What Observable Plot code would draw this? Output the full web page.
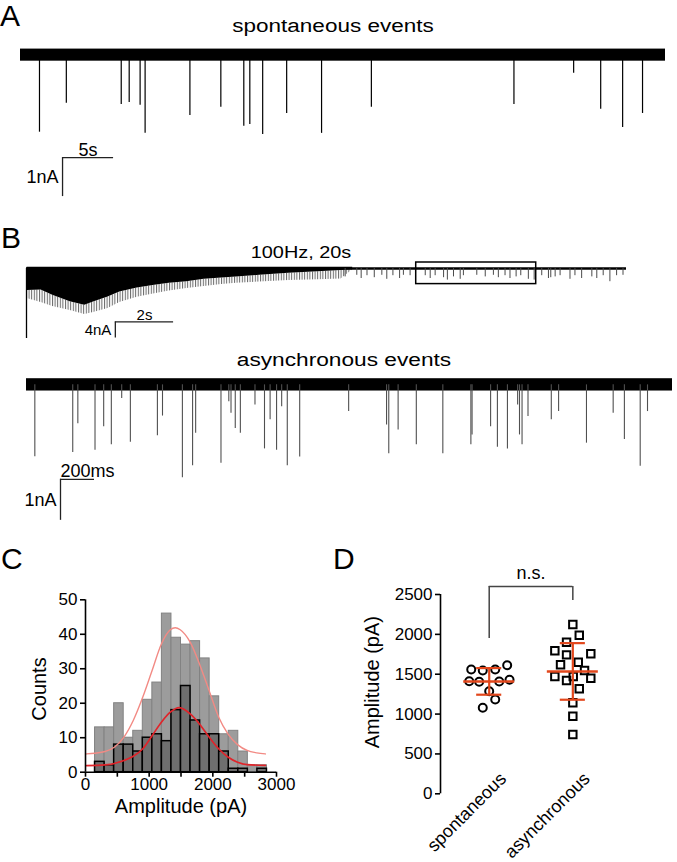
<!DOCTYPE html>
<html><head><meta charset="utf-8">
<script src="https://cdn.jsdelivr.net/npm/d3@7"></script>
<script src="https://cdn.jsdelivr.net/npm/@observablehq/plot@0.6"></script>
<style>
body{margin:0;background:#fff;}
#fig{position:relative;width:677px;height:862px;font-family:"Liberation Sans",Arial,sans-serif;color:#000;overflow:hidden;background:#fff}
.p{position:absolute}
.lbl{position:absolute;font-size:30px;line-height:1;white-space:nowrap}
.ttl{position:absolute;line-height:1;white-space:nowrap}
</style></head><body>
<svg width="0" height="0" style="position:absolute"><defs>
<pattern id="comb" width="2.6" height="6" patternUnits="userSpaceOnUse"><rect width="1" height="6" fill="#666"/></pattern>
</defs></svg>
<div id="fig"></div>
<script>
// ---------- Panel A : spontaneous events ----------
const durA = 63.2;                       // s
const noiseA = [-0.15, 0.16];            // nA
const spontTimes = [1.86,4.49,9.87,10.65,11.72,12.21,16.6,19.63,21.88,22.47,23.73,26.08,29.5,34.38,48.35,54.2,56.85,59.0,60.95];
const spontAmps  = [1.97,1.23,1.26,1.21,1.28,2.0,1.54,1.33,1.82,1.77,2.03,1.49,2.0,1.33,1.26,0.46,1.38,1.85,1.49];
const scaleBarA = {t0: 4.12, dt: 5, y0: -2.62, dy: 1, tLabel: "5s", yLabel: "1nA"};

// ---------- Panel B : 100 Hz train ----------
const durB = 20.6;
const trainOnsetAmp = 17.5;
const trainT      = [0.02,0.5,0.9,1.5,2.0,2.3,2.8,3.2,3.8,4.4,4.9,5.5,6.1,6.7,7.2,8.0,9.0,10.0,10.8,11.2];
const trainCore   = [5.5,5.4,6.7,8.3,9.2,8.4,7.1,5.9,4.9,4.2,3.7,3.3,2.7,2.35,2.1,1.7,1.2,0.8,0.5,0.3];
const trainFringe = [7.5,8.5,9.5,10.5,11.5,11,10,8.5,7.2,6.3,5.6,5.0,4.5,4.0,3.7,3.4,3.0,2.8,2.6,0.3];
const tailTimes = [10.94,11.34,11.49,11.69,11.94,12.2,12.37,12.58,12.81,12.94,13.17,13.69,13.86,14.03,14.32,14.45,14.66,14.89,15.0,15.46,15.75,16.03,16.2,16.43,16.6,16.81,16.97,17.23,17.43,17.69,17.92,18.0,18.15,18.32,18.66,18.83,19.06,19.41,19.58,19.8,20.03,20.26,20.48];
const tailAmps  = [2.1,1.7,2.5,1.8,2.3,1.7,2.7,1.8,2.5,1.7,1.8,1.8,2.5,1.8,2.3,2.9,2.1,2.7,1.8,1.7,2.1,1.7,2.3,1.8,2.5,2.1,1.8,2.7,2.9,1.8,2.5,2.3,2.1,1.8,2.7,1.8,2.5,2.1,2.5,1.8,3.3,1.8,1.7];
const zoomBox = {t1: 13.38, t2: 17.5, y1: -3.9, y2: 1.5};
const scaleBarB = {t0: 3.05, dt: 2, y0: -13.35, dy: 4, tLabel: "2s", yLabel: "4nA"};

// ---------- Panel B : asynchronous events ----------
const durC = 3.8;
const noiseAsync = [-0.15, 0.15];
const asyncTimes = [0.049,0.272,0.302,0.403,0.454,0.499,0.560,0.611,0.770,0.800,0.917,0.977,0.995,1.144,1.190,1.203,1.228,1.258,1.344,1.400,1.433,1.471,1.501,1.534,1.607,1.895,2.118,2.131,2.186,2.293,2.449,2.614,2.621,2.730,2.770,2.829,2.889,2.900,2.915,2.950,3.087,3.130,3.294,3.451,3.517,3.610,3.653];
const asyncAmps  = [1.75,1.65,0.95,1.59,1.02,1.46,0.33,1.40,1.24,0.76,2.26,1.97,1.18,1.91,0.41,0.69,1.06,1.18,0.49,1.56,0.85,1.59,0.53,1.97,1.76,0.65,0.98,1.68,1.10,1.46,1.68,1.46,1.22,1.02,1.52,1.56,0.49,1.22,1.46,0.77,0.85,0.65,1.42,0.69,1.33,1.98,0.65];
const scaleBarAsync = {t0: 0.2, dt: 0.2, y0: -2.3, dy: 1, tLabel: "200ms", yLabel: "1nA"};

// ---------- Panel C : histogram ----------
const binLo = [150,300,450,600,750,900,1050,1200,1350,1500,1650,1800,1950,2100,2250,2400,2550,2700];
const binWidth = 150;
const countsLight = [13,13,20,10,12,21,26,46,39,37,38,33,22,11,12,6,2,2];
const countsDark  = [3,2,8,8,6,10,11,9,18,25,15,11,11,6,1,1,0,1];
const fitLightX = [15,146,307,458,604,750,900,1046,1192,1332,1410,1488,1644,1790,1941,2091,2237,2388,2539,2690,2825];
const fitLightY = [5.3,5.5,6.0,7.3,10.2,15,21.8,29.5,37.2,41.3,41.9,41.3,37.7,31.4,23.7,16,11.1,8.0,6.3,5.6,5.3];
const fitRedX = [15,307,604,750,900,1046,1192,1332,1472,1644,1790,1941,2091,2237,2388,2539,2825];
const fitRedY = [1.9,2.1,3.4,4.6,6.8,10.6,14.5,17.4,18.7,16.9,14.0,10.2,6.8,4.4,2.9,2.2,2.0];
const cTicksX = [0,500,1000,1500,2000,2500,3000];
const cTicksY = [0,10,20,30,40,50];

// ---------- Panel D : amplitude scatter ----------
const groupNames = ["spontaneous","asynchronous"];
const groupPos = [1, 2];
const spontValues = [1559,1547,1559,1613,1412,1405,1409,1430,1287,1183,1079];
const spontJitter = [-0.215,-0.077,0.072,0.215,-0.239,-0.12,0.12,0.243,0,0.072,-0.077];
const asyncValues = [2124,1990,1902,1794,1756,1743,1651,1618,1547,1471,1471,1450,1421,1317,1141,973,744];
const asyncJitter = [0,0.077,-0.075,-0.215,0.215,-0.075,0.065,-0.147,0.14,-0.215,0.005,0.215,-0.075,0.077,0,0,0];
const groupMean = [1410, 1535];
const groupSD   = [167, 355];
const dTicksY = [0,500,1000,1500,2000,2500];
const sigLabel = "n.s.";
const sigBracket = {top: 2600, leftEnd: 1948, rightEnd: 2425};

// ================= drawing =================
const fig = document.getElementById("fig");
const FONT = '"Liberation Sans", Arial, sans-serif';
function place(node, left, top){ const w=document.createElement("div"); w.className="p"; w.style.left=left+"px"; w.style.top=top+"px"; w.appendChild(node); fig.appendChild(w); }
function panelLabel(t, left, top){ const d=document.createElement("div"); d.className="lbl"; d.style.left=left+"px"; d.style.top=top+"px"; d.textContent=t; fig.appendChild(d); }
function title(t, cx, cy, size, sx){ const d=document.createElement("div"); d.className="ttl"; d.style.left=cx+"px"; d.style.top=cy+"px"; d.style.fontSize=size+"px"; d.style.transform=`translate(-50%,-50%) scaleX(${sx})`; d.textContent=t; fig.appendChild(d); }
const baseStyle = {background:"transparent", overflow:"visible", fontFamily:FONT, color:"black"};

function scaleBarMarks(sb, fs, tAnchor){
  return [
    Plot.ruleY([sb], {x1: d=>d.t0, x2: d=>d.t0+d.dt, y: d=>d.y0, stroke:"#222", strokeWidth:1.3}),
    Plot.ruleX([sb], {x: d=>d.t0, y1: d=>d.y0, y2: d=>d.y0-d.dy, stroke:"#222", strokeWidth:1.3}),
    Plot.text([sb], {x: d=> tAnchor==="start" ? d.t0 : d.t0+d.dt/2, y: d=>d.y0, text: d=>d.tLabel, textAnchor: tAnchor, lineAnchor:"bottom", dy:-2, fontSize:fs}),
    Plot.text([sb], {x: d=>d.t0, y: d=>d.y0-d.dy/2, text: d=>d.yLabel, textAnchor:"end", dx:-4, fontSize:fs})
  ];
}

// Panel A
panelLabel("A", 0, 1);
title("spontaneous events", 333, 26, 18, 1.25);
place(Plot.plot({
  width:677, height:167, marginLeft:20, marginRight:12, marginTop:0, marginBottom:0,
  x:{domain:[0,durA], axis:null}, y:{domain:[-3.9,0.38], axis:null}, style:baseStyle,
  marks:[
    Plot.rect([noiseA], {x1:0, x2:durA, y1:d=>d[0], y2:d=>d[1], fill:"black"}),
    Plot.ruleX(spontTimes, {x:d=>d, y1:0, y2:(d,i)=>-spontAmps[i], stroke:"black", strokeWidth:1.2}),
    ...scaleBarMarks(scaleBarA, 18, "middle")
  ]
}), 0, 40);

// Panel B train
panelLabel("B", 1, 223);
title("100Hz, 20s", 301, 252, 17, 1.17);
const train = trainT.map((t,i)=>({t, core:trainCore[i], fringe:trainFringe[i]}));
place(Plot.plot({
  width:677, height:88, marginLeft:26, marginRight:51, marginTop:0, marginBottom:0,
  x:{domain:[0,durB], axis:null}, y:{domain:[-19.5,2.5], axis:null}, style:baseStyle,
  marks:[
    Plot.areaY(train, {x:"t", y1:d=>-d.core, y2:d=>-d.fringe, fill:"url(#comb)", curve:"linear"}),
    Plot.areaY(train, {x:"t", y1:0.3, y2:d=>-d.core, fill:"black", curve:"linear"}),
    Plot.ruleY([0], {x1:0, x2:durB, stroke:"black", strokeWidth:2.5}),
    Plot.ruleX([trainOnsetAmp], {x:0, y1:0, y2:d=>-d, stroke:"black", strokeWidth:1.3}),
    Plot.ruleX(tailTimes, {x:d=>d, y1:0, y2:(d,i)=>-tailAmps[i], stroke:"#4a4a4a", strokeWidth:1}),
    Plot.rect([zoomBox], {x1:"t1", x2:"t2", y1:"y1", y2:"y2", fill:"none", stroke:"black", strokeWidth:1.5}),
    ...scaleBarMarks(scaleBarB, 15, "middle")
  ]
}), 0, 258);

// Panel B async
title("asynchronous events", 344, 360, 18, 1.26);
place(Plot.plot({
  width:677, height:156, marginLeft:26, marginRight:5, marginTop:0, marginBottom:0,
  x:{domain:[0,durC], axis:null}, y:{domain:[-3.45,0.35], axis:null}, style:baseStyle,
  marks:[
    Plot.rect([noiseAsync], {x1:0, x2:durC, y1:d=>d[0], y2:d=>d[1], fill:"black"}),
    Plot.ruleX(asyncTimes, {x:d=>d, y1:0, y2:(d,i)=>-asyncAmps[i], stroke:"#505050", strokeWidth:1.1}),
    ...scaleBarMarks(scaleBarAsync, 18, "start")
  ]
}), 0, 370);

// Panel C
panelLabel("C", 1, 544);
place(Plot.plot({
  width:330, height:250, marginLeft:85, marginRight:54, marginTop:19.3, marginBottom:58.3,
  x:{domain:[0,3000], axis:null}, y:{domain:[0,50], axis:null},
  style:{...baseStyle, fontSize:"16px"},
  marks:[
    Plot.rect(binLo, {x1:d=>d, x2:d=>d+binWidth, y1:0, y2:(d,i)=>countsLight[i], fill:"#9c9c9c", stroke:"#828282", strokeWidth:1}),
    Plot.rect(binLo.filter((d,i)=>countsDark[i]>0), {x1:d=>d, x2:d=>d+binWidth, y1:0, y2:d=>countsDark[binLo.indexOf(d)], fill:"#6f6f6f", stroke:"black", strokeWidth:1.5}),
    Plot.line(fitLightX, {x:d=>d, y:(d,i)=>fitLightY[i], stroke:"#f28a84", strokeWidth:1.4, curve:"monotone-x"}),
    Plot.line(fitRedX, {x:d=>d, y:(d,i)=>fitRedY[i], stroke:"#e0242a", strokeWidth:1.7, curve:"monotone-x"}),
    Plot.ruleY([0], {stroke:"black", strokeWidth:1.6}),
    Plot.ruleX([0], {y1:0, y2:50, stroke:"black", strokeWidth:1.6}),
    Plot.axisX({ticks:cTicksX, tickSize:5, tickPadding:1, tickFormat:d=>d%1000===0?String(d):"", stroke:"black", strokeWidth:1.6, fontSize:17, label:null}),
    Plot.axisY({ticks:cTicksY, tickSize:5, tickPadding:3, tickFormat:d=>String(d), stroke:"black", strokeWidth:1.6, fontSize:17, label:null}),
    Plot.text(["Amplitude (pA)"], {frameAnchor:"bottom", dy:41, fontSize:20}),
    Plot.text(["Counts"], {frameAnchor:"left", textAnchor:"middle", dx:-46, dy:3, rotate:-90, fontSize:20})
  ]
}), 0, 580);

// Panel D
panelLabel("D", 333, 544);
const spontPts = spontValues.map((v,i)=>({x:groupPos[0]+spontJitter[i], v}));
const asyncPts = asyncValues.map((v,i)=>({x:groupPos[1]+asyncJitter[i], v}));
const stats = groupPos.map((p,i)=>({p, m:groupMean[i], sd:groupSD[i], name:groupNames[i]}));
const ERR = "#e2471c";
place(Plot.plot({
  width:347, height:302, marginLeft:110, marginRight:54.5, marginTop:34, marginBottom:68.7,
  x:{domain:[0.4175,2.6], axis:null}, y:{domain:[0,2500], axis:null},
  style:{...baseStyle, fontSize:"16px"},
  marks:[
    Plot.ruleX([0.4175], {y1:0, y2:2500, stroke:"black", strokeWidth:1.6}),
    Plot.axisY({ticks:dTicksY, tickSize:5, tickPadding:3, tickFormat:d=>String(d), stroke:"black", strokeWidth:1.6, fontSize:17, label:null}),
    Plot.text(["Amplitude (pA)"], {frameAnchor:"left", textAnchor:"middle", dx:-68, dy:-12, rotate:-90, fontSize:20}),
    Plot.dot(spontPts, {x:"x", y:"v", r:4, stroke:"black", strokeWidth:2, fill:"none"}),
    Plot.dot(asyncPts, {x:"x", y:"v", r:4.2, symbol:"square", stroke:"black", strokeWidth:2, fill:"none"}),
    Plot.ruleY(stats, {y:"m", x1:d=>d.p-0.305, x2:d=>d.p+0.305, stroke:ERR, strokeWidth:2.5}),
    Plot.ruleY(stats, {y:d=>d.m+d.sd, x1:d=>d.p-0.15, x2:d=>d.p+0.15, stroke:ERR, strokeWidth:2.2}),
    Plot.ruleY(stats, {y:d=>d.m-d.sd, x1:d=>d.p-0.15, x2:d=>d.p+0.15, stroke:ERR, strokeWidth:2.2}),
    Plot.ruleX(stats, {x:"p", y1:d=>d.m-d.sd, y2:d=>d.m+d.sd, stroke:ERR, strokeWidth:2.2}),
    Plot.ruleY([sigBracket], {y:"top", x1:groupPos[0], x2:groupPos[1], stroke:"#444", strokeWidth:1.5}),
    Plot.ruleX([sigBracket], {x:groupPos[0], y1:"leftEnd", y2:"top", stroke:"#444", strokeWidth:1.5}),
    Plot.ruleX([sigBracket], {x:groupPos[1], y1:"rightEnd", y2:"top", stroke:"#444", strokeWidth:1.5}),
    Plot.text([sigLabel], {x:(groupPos[0]+groupPos[1])/2, y:sigBracket.top, dy:-13, fontSize:18}),
    Plot.text(stats, {x:"p", y:0, text:"name", rotate:-45, textAnchor:"end", dx:14, dy:-18, fontSize:18})
  ]
}), 330, 560);
</script>
</body></html>
